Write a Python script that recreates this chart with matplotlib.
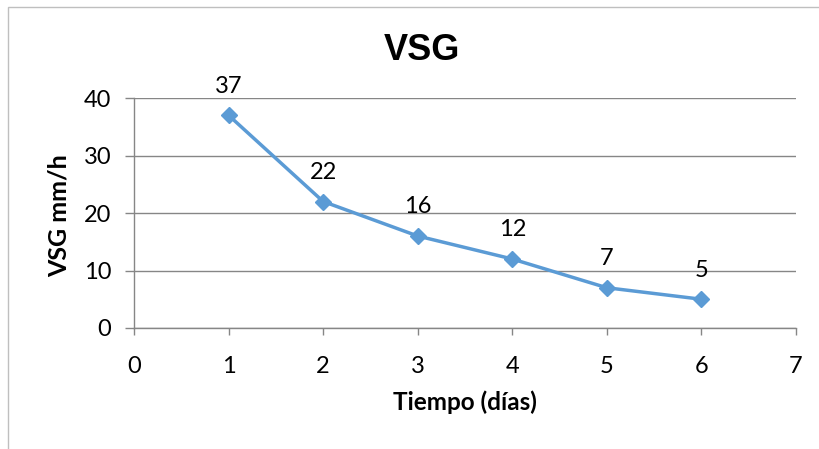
import matplotlib.pyplot as plt
from matplotlib.patches import Rectangle

# data
dias = [1, 2, 3, 4, 5, 6]
vsg = [37, 22, 16, 12, 7, 5]
x_ticks = [0, 1, 2, 3, 4, 5, 6, 7]
y_ticks = [0, 10, 20, 30, 40]

plt.rcParams["font.family"] = ["Lato", "DejaVu Sans"]

blue = "#5B9BD5"
grey = "#868686"

fig = plt.figure(figsize=(8.19, 4.49), dpi=100)
ax = fig.add_axes([0.1636, 0.2695, 0.8083, 0.5122])

# chart area border (cut off on right and bottom like the reference)
fig.patches.append(Rectangle((8 / 819, -0.1), 1.2, 1 - 7 / 449 + 0.1,
                             transform=fig.transFigure, fill=False,
                             edgecolor="#BFBFBF", linewidth=1))

ax.plot(dias, vsg, color=blue, linewidth=2.5, marker="D", markersize=8.5,
        markerfacecolor=blue, markeredgecolor=blue, zorder=3)

for x, y in zip(dias, vsg):
    ax.annotate(str(y), (x, y), xytext=(0, 21), textcoords="offset points",
                ha="center", va="center", fontsize=17, color="black")

ax.set_xlim(0, 7)
ax.set_ylim(0, 40)
ax.set_xticks(x_ticks)
ax.set_yticks(y_ticks)
ax.tick_params(axis="both", labelsize=17, colors=grey, labelcolor="black",
               direction="out")
ax.tick_params(axis="y", length=6.5, width=1, pad=10)
ax.tick_params(axis="x", length=5, width=1, pad=15)

ax.yaxis.grid(True, color=grey, linewidth=1)
ax.set_axisbelow(True)
for side in ["top", "right"]:
    ax.spines[side].set_visible(False)
for side in ["left", "bottom"]:
    ax.spines[side].set_color(grey)
    ax.spines[side].set_linewidth(1)

ax.set_xlabel("Tiempo (días)", fontsize=17.5, fontweight="bold", va="center")
ax.set_ylabel("VSG mm/h", fontsize=18, fontweight="bold", va="center")
ax.xaxis.set_label_coords(0.5, -0.322)
ax.yaxis.set_label_coords(-0.113, 0.49)

fig.text(422 / 819, 1 - 50 / 449, "VSG", fontsize=26, fontweight="bold",
         ha="center", va="center", family=["Liberation Sans", "DejaVu Sans"])

fig.savefig("out.png", dpi=100)
